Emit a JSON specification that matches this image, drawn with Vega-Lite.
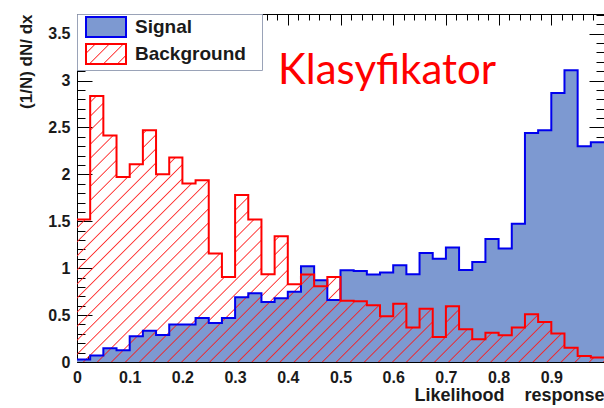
{
  "$schema": "https://vega.github.io/schema/vega-lite/v6.json",
  "width": 527,
  "height": 348,
  "autosize": {"type": "none"},
  "padding": {"left": 77, "top": 14, "right": 0, "bottom": 46},
  "background": "white",
  "title": {
    "text": "Klasyfikator",
    "orient": "top",
    "anchor": "start",
    "frame": "group",
    "offset": 0,
    "dx": 201,
    "dy": 112,
    "baseline": "alphabetic",
    "font": "Lato",
    "fontSize": 42,
    "fontWeight": "normal",
    "color": "#ff0000"
  },
  "config": {
    "view": {"stroke": null},
    "axis": {"grid": false}
  },
  "datasets": {
    "bins": [
      {"lo": 0.0, "hi": 0.025, "Signal": 0.026, "Background": 1.518},
      {"lo": 0.025, "hi": 0.05, "Signal": 0.07, "Background": 2.836},
      {"lo": 0.05, "hi": 0.075, "Signal": 0.146, "Background": 2.414},
      {"lo": 0.075, "hi": 0.1, "Signal": 0.125, "Background": 1.972},
      {"lo": 0.1, "hi": 0.125, "Signal": 0.274, "Background": 2.108},
      {"lo": 0.125, "hi": 0.15, "Signal": 0.333, "Background": 2.47},
      {"lo": 0.15, "hi": 0.175, "Signal": 0.288, "Background": 2.001},
      {"lo": 0.175, "hi": 0.2, "Signal": 0.4, "Background": 2.179},
      {"lo": 0.2, "hi": 0.225, "Signal": 0.4, "Background": 1.902},
      {"lo": 0.225, "hi": 0.25, "Signal": 0.47, "Background": 1.937},
      {"lo": 0.25, "hi": 0.275, "Signal": 0.416, "Background": 1.156},
      {"lo": 0.275, "hi": 0.3, "Signal": 0.47, "Background": 0.906},
      {"lo": 0.3, "hi": 0.325, "Signal": 0.69, "Background": 1.78},
      {"lo": 0.325, "hi": 0.35, "Signal": 0.732, "Background": 1.518},
      {"lo": 0.35, "hi": 0.375, "Signal": 0.64, "Background": 0.935},
      {"lo": 0.375, "hi": 0.4, "Signal": 0.68, "Background": 1.34},
      {"lo": 0.4, "hi": 0.425, "Signal": 0.75, "Background": 0.828},
      {"lo": 0.425, "hi": 0.45, "Signal": 1.02, "Background": 0.932},
      {"lo": 0.45, "hi": 0.475, "Signal": 0.871, "Background": 0.807},
      {"lo": 0.475, "hi": 0.5, "Signal": 0.66, "Background": 0.906},
      {"lo": 0.5, "hi": 0.525, "Signal": 0.978, "Background": 0.654},
      {"lo": 0.525, "hi": 0.55, "Signal": 0.97, "Background": 0.647},
      {"lo": 0.55, "hi": 0.575, "Signal": 0.932, "Background": 0.604},
      {"lo": 0.575, "hi": 0.6, "Signal": 0.953, "Background": 0.487},
      {"lo": 0.6, "hi": 0.625, "Signal": 1.031, "Background": 0.622},
      {"lo": 0.625, "hi": 0.65, "Signal": 0.935, "Background": 0.367},
      {"lo": 0.65, "hi": 0.675, "Signal": 1.162, "Background": 0.569},
      {"lo": 0.675, "hi": 0.7, "Signal": 1.102, "Background": 0.267},
      {"lo": 0.7, "hi": 0.725, "Signal": 1.22, "Background": 0.594},
      {"lo": 0.725, "hi": 0.75, "Signal": 0.98, "Background": 0.35},
      {"lo": 0.75, "hi": 0.775, "Signal": 1.066, "Background": 0.242},
      {"lo": 0.775, "hi": 0.8, "Signal": 1.31, "Background": 0.313},
      {"lo": 0.8, "hi": 0.825, "Signal": 1.209, "Background": 0.285},
      {"lo": 0.825, "hi": 0.85, "Signal": 1.475, "Background": 0.367},
      {"lo": 0.85, "hi": 0.875, "Signal": 2.441, "Background": 0.509},
      {"lo": 0.875, "hi": 0.9, "Signal": 2.47, "Background": 0.427},
      {"lo": 0.9, "hi": 0.925, "Signal": 2.868, "Background": 0.303},
      {"lo": 0.925, "hi": 0.95, "Signal": 3.11, "Background": 0.153},
      {"lo": 0.95, "hi": 0.975, "Signal": 2.3, "Background": 0.064},
      {"lo": 0.975, "hi": 1.0, "Signal": 2.342, "Background": 0.047}
    ]
  },
  "data": {"name": "bins"},
  "transform": [
    {"fold": ["Signal", "Background"], "as": ["series", "v"]},
    {"fold": ["lo", "hi"], "as": ["edge", "x"]}
  ],
  "resolve": {"axis": {"x": "independent", "y": "independent"}},
  "layer": [
    {
      "transform": [{"filter": "datum.series === 'Signal'"}],
      "mark": {"type": "area", "color": "#7d99d1", "opacity": 1},
      "encoding": {
        "x": {
          "field": "x", "type": "quantitative",
          "scale": {"domain": [0, 1], "nice": false, "zero": false},
          "axis": {
            "orient": "bottom", "ticks": false, "domain": true, "domainColor": "#000000", "domainWidth": 1,
            "values": [0, 0.1, 0.2, 0.3, 0.4, 0.5, 0.6, 0.7, 0.8, 0.9],
            "format": "~g", "labelFlush": false, "labelOverlap": false,
            "labelFont": "Liberation Sans", "labelFontWeight": "bold", "labelFontSize": 16, "labelColor": "#1a1a1a",
            "labelPadding": 7,
            "title": "Likelihood\u00a0\u00a0\u00a0\u00a0response", "titleAnchor": "end",
            "titleFont": "Liberation Sans", "titleFontWeight": "bold", "titleFontSize": 18, "titleColor": "#1a1a1a",
            "titlePadding": 1
          }
        },
        "y": {
          "field": "v", "type": "quantitative", "stack": null,
          "scale": {"domain": [0, 3.71], "nice": false, "zero": true},
          "axis": {
            "orient": "left", "ticks": false, "domain": true, "domainColor": "#000000", "domainWidth": 1,
            "values": [0, 0.5, 1, 1.5, 2, 2.5, 3, 3.5],
            "format": "~g", "labelFlush": false, "labelOverlap": false,
            "labelFont": "Liberation Sans", "labelFontWeight": "bold", "labelFontSize": 16, "labelColor": "#1a1a1a",
            "labelPadding": 7,
            "title": "(1/N) dN/ dx", "titleAnchor": "end",
            "titleFont": "Liberation Sans", "titleFontWeight": "bold", "titleFontSize": 17, "titleColor": "#1a1a1a",
            "titlePadding": 12
          }
        }
      }
    },
    {
      "transform": [{"filter": "datum.series === 'Background'"}],
      "mark": {
        "type": "area",
        "fill": {
          "gradient": "linear", "x1": 0, "y1": 0, "x2": 1.25, "y2": 0.631,
          "stops": [
            {"offset": 0, "color": "rgba(255,0,0,0)"},
            {"offset": 0.005, "color": "rgba(255,0,0,0)"}, {"offset": 0.0065, "color": "rgba(255,30,30,0.9)"}, {"offset": 0.008, "color": "rgba(255,0,0,0)"},
            {"offset": 0.022, "color": "rgba(255,0,0,0)"}, {"offset": 0.0235, "color": "rgba(255,30,30,0.9)"}, {"offset": 0.025, "color": "rgba(255,0,0,0)"},
            {"offset": 0.039, "color": "rgba(255,0,0,0)"}, {"offset": 0.0405, "color": "rgba(255,30,30,0.9)"}, {"offset": 0.042, "color": "rgba(255,0,0,0)"},
            {"offset": 0.056, "color": "rgba(255,0,0,0)"}, {"offset": 0.0575, "color": "rgba(255,30,30,0.9)"}, {"offset": 0.059, "color": "rgba(255,0,0,0)"},
            {"offset": 0.073, "color": "rgba(255,0,0,0)"}, {"offset": 0.0745, "color": "rgba(255,30,30,0.9)"}, {"offset": 0.076, "color": "rgba(255,0,0,0)"},
            {"offset": 0.09, "color": "rgba(255,0,0,0)"}, {"offset": 0.0915, "color": "rgba(255,30,30,0.9)"}, {"offset": 0.093, "color": "rgba(255,0,0,0)"},
            {"offset": 0.107, "color": "rgba(255,0,0,0)"}, {"offset": 0.1085, "color": "rgba(255,30,30,0.9)"}, {"offset": 0.11, "color": "rgba(255,0,0,0)"},
            {"offset": 0.124, "color": "rgba(255,0,0,0)"}, {"offset": 0.1255, "color": "rgba(255,30,30,0.9)"}, {"offset": 0.127, "color": "rgba(255,0,0,0)"},
            {"offset": 0.141, "color": "rgba(255,0,0,0)"}, {"offset": 0.1425, "color": "rgba(255,30,30,0.9)"}, {"offset": 0.144, "color": "rgba(255,0,0,0)"},
            {"offset": 0.158, "color": "rgba(255,0,0,0)"}, {"offset": 0.1595, "color": "rgba(255,30,30,0.9)"}, {"offset": 0.161, "color": "rgba(255,0,0,0)"},
            {"offset": 0.175, "color": "rgba(255,0,0,0)"}, {"offset": 0.1765, "color": "rgba(255,30,30,0.9)"}, {"offset": 0.178, "color": "rgba(255,0,0,0)"},
            {"offset": 0.192, "color": "rgba(255,0,0,0)"}, {"offset": 0.1935, "color": "rgba(255,30,30,0.9)"}, {"offset": 0.195, "color": "rgba(255,0,0,0)"},
            {"offset": 0.209, "color": "rgba(255,0,0,0)"}, {"offset": 0.2105, "color": "rgba(255,30,30,0.9)"}, {"offset": 0.212, "color": "rgba(255,0,0,0)"},
            {"offset": 0.226, "color": "rgba(255,0,0,0)"}, {"offset": 0.2275, "color": "rgba(255,30,30,0.9)"}, {"offset": 0.229, "color": "rgba(255,0,0,0)"},
            {"offset": 0.243, "color": "rgba(255,0,0,0)"}, {"offset": 0.2445, "color": "rgba(255,30,30,0.9)"}, {"offset": 0.246, "color": "rgba(255,0,0,0)"},
            {"offset": 0.26, "color": "rgba(255,0,0,0)"}, {"offset": 0.2615, "color": "rgba(255,30,30,0.9)"}, {"offset": 0.263, "color": "rgba(255,0,0,0)"},
            {"offset": 0.277, "color": "rgba(255,0,0,0)"}, {"offset": 0.2785, "color": "rgba(255,30,30,0.9)"}, {"offset": 0.28, "color": "rgba(255,0,0,0)"},
            {"offset": 0.294, "color": "rgba(255,0,0,0)"}, {"offset": 0.2955, "color": "rgba(255,30,30,0.9)"}, {"offset": 0.297, "color": "rgba(255,0,0,0)"},
            {"offset": 0.311, "color": "rgba(255,0,0,0)"}, {"offset": 0.3125, "color": "rgba(255,30,30,0.9)"}, {"offset": 0.314, "color": "rgba(255,0,0,0)"},
            {"offset": 0.328, "color": "rgba(255,0,0,0)"}, {"offset": 0.3295, "color": "rgba(255,30,30,0.9)"}, {"offset": 0.331, "color": "rgba(255,0,0,0)"},
            {"offset": 0.345, "color": "rgba(255,0,0,0)"}, {"offset": 0.3465, "color": "rgba(255,30,30,0.9)"}, {"offset": 0.348, "color": "rgba(255,0,0,0)"},
            {"offset": 0.362, "color": "rgba(255,0,0,0)"}, {"offset": 0.3635, "color": "rgba(255,30,30,0.9)"}, {"offset": 0.365, "color": "rgba(255,0,0,0)"},
            {"offset": 0.379, "color": "rgba(255,0,0,0)"}, {"offset": 0.3805, "color": "rgba(255,30,30,0.9)"}, {"offset": 0.382, "color": "rgba(255,0,0,0)"},
            {"offset": 0.396, "color": "rgba(255,0,0,0)"}, {"offset": 0.3975, "color": "rgba(255,30,30,0.9)"}, {"offset": 0.399, "color": "rgba(255,0,0,0)"},
            {"offset": 0.413, "color": "rgba(255,0,0,0)"}, {"offset": 0.4145, "color": "rgba(255,30,30,0.9)"}, {"offset": 0.416, "color": "rgba(255,0,0,0)"},
            {"offset": 0.43, "color": "rgba(255,0,0,0)"}, {"offset": 0.4315, "color": "rgba(255,30,30,0.9)"}, {"offset": 0.433, "color": "rgba(255,0,0,0)"},
            {"offset": 0.447, "color": "rgba(255,0,0,0)"}, {"offset": 0.4485, "color": "rgba(255,30,30,0.9)"}, {"offset": 0.45, "color": "rgba(255,0,0,0)"},
            {"offset": 0.464, "color": "rgba(255,0,0,0)"}, {"offset": 0.4655, "color": "rgba(255,30,30,0.9)"}, {"offset": 0.467, "color": "rgba(255,0,0,0)"},
            {"offset": 0.481, "color": "rgba(255,0,0,0)"}, {"offset": 0.4825, "color": "rgba(255,30,30,0.9)"}, {"offset": 0.484, "color": "rgba(255,0,0,0)"},
            {"offset": 0.498, "color": "rgba(255,0,0,0)"}, {"offset": 0.4995, "color": "rgba(255,30,30,0.9)"}, {"offset": 0.501, "color": "rgba(255,0,0,0)"},
            {"offset": 0.515, "color": "rgba(255,0,0,0)"}, {"offset": 0.5165, "color": "rgba(255,30,30,0.9)"}, {"offset": 0.518, "color": "rgba(255,0,0,0)"},
            {"offset": 0.532, "color": "rgba(255,0,0,0)"}, {"offset": 0.5335, "color": "rgba(255,30,30,0.9)"}, {"offset": 0.535, "color": "rgba(255,0,0,0)"},
            {"offset": 0.549, "color": "rgba(255,0,0,0)"}, {"offset": 0.5505, "color": "rgba(255,30,30,0.9)"}, {"offset": 0.552, "color": "rgba(255,0,0,0)"},
            {"offset": 0.566, "color": "rgba(255,0,0,0)"}, {"offset": 0.5675, "color": "rgba(255,30,30,0.9)"}, {"offset": 0.569, "color": "rgba(255,0,0,0)"},
            {"offset": 0.583, "color": "rgba(255,0,0,0)"}, {"offset": 0.5845, "color": "rgba(255,30,30,0.9)"}, {"offset": 0.586, "color": "rgba(255,0,0,0)"},
            {"offset": 0.6, "color": "rgba(255,0,0,0)"}, {"offset": 0.6015, "color": "rgba(255,30,30,0.9)"}, {"offset": 0.603, "color": "rgba(255,0,0,0)"},
            {"offset": 0.617, "color": "rgba(255,0,0,0)"}, {"offset": 0.6185, "color": "rgba(255,30,30,0.9)"}, {"offset": 0.62, "color": "rgba(255,0,0,0)"},
            {"offset": 0.634, "color": "rgba(255,0,0,0)"}, {"offset": 0.6355, "color": "rgba(255,30,30,0.9)"}, {"offset": 0.637, "color": "rgba(255,0,0,0)"},
            {"offset": 0.651, "color": "rgba(255,0,0,0)"}, {"offset": 0.6525, "color": "rgba(255,30,30,0.9)"}, {"offset": 0.654, "color": "rgba(255,0,0,0)"},
            {"offset": 0.668, "color": "rgba(255,0,0,0)"}, {"offset": 0.6695, "color": "rgba(255,30,30,0.9)"}, {"offset": 0.671, "color": "rgba(255,0,0,0)"},
            {"offset": 0.685, "color": "rgba(255,0,0,0)"}, {"offset": 0.6865, "color": "rgba(255,30,30,0.9)"}, {"offset": 0.688, "color": "rgba(255,0,0,0)"},
            {"offset": 0.702, "color": "rgba(255,0,0,0)"}, {"offset": 0.7035, "color": "rgba(255,30,30,0.9)"}, {"offset": 0.705, "color": "rgba(255,0,0,0)"},
            {"offset": 0.719, "color": "rgba(255,0,0,0)"}, {"offset": 0.7205, "color": "rgba(255,30,30,0.9)"}, {"offset": 0.722, "color": "rgba(255,0,0,0)"},
            {"offset": 0.736, "color": "rgba(255,0,0,0)"}, {"offset": 0.7375, "color": "rgba(255,30,30,0.9)"}, {"offset": 0.739, "color": "rgba(255,0,0,0)"},
            {"offset": 0.753, "color": "rgba(255,0,0,0)"}, {"offset": 0.7545, "color": "rgba(255,30,30,0.9)"}, {"offset": 0.756, "color": "rgba(255,0,0,0)"},
            {"offset": 0.77, "color": "rgba(255,0,0,0)"}, {"offset": 0.7715, "color": "rgba(255,30,30,0.9)"}, {"offset": 0.773, "color": "rgba(255,0,0,0)"},
            {"offset": 0.787, "color": "rgba(255,0,0,0)"}, {"offset": 0.7885, "color": "rgba(255,30,30,0.9)"}, {"offset": 0.79, "color": "rgba(255,0,0,0)"},
            {"offset": 0.804, "color": "rgba(255,0,0,0)"}, {"offset": 0.8055, "color": "rgba(255,30,30,0.9)"}, {"offset": 0.807, "color": "rgba(255,0,0,0)"},
            {"offset": 0.821, "color": "rgba(255,0,0,0)"}, {"offset": 0.8225, "color": "rgba(255,30,30,0.9)"}, {"offset": 0.824, "color": "rgba(255,0,0,0)"},
            {"offset": 0.838, "color": "rgba(255,0,0,0)"}, {"offset": 0.8395, "color": "rgba(255,30,30,0.9)"}, {"offset": 0.841, "color": "rgba(255,0,0,0)"},
            {"offset": 0.855, "color": "rgba(255,0,0,0)"}, {"offset": 0.8565, "color": "rgba(255,30,30,0.9)"}, {"offset": 0.858, "color": "rgba(255,0,0,0)"},
            {"offset": 0.872, "color": "rgba(255,0,0,0)"}, {"offset": 0.8735, "color": "rgba(255,30,30,0.9)"}, {"offset": 0.875, "color": "rgba(255,0,0,0)"},
            {"offset": 0.889, "color": "rgba(255,0,0,0)"}, {"offset": 0.8905, "color": "rgba(255,30,30,0.9)"}, {"offset": 0.892, "color": "rgba(255,0,0,0)"},
            {"offset": 0.906, "color": "rgba(255,0,0,0)"}, {"offset": 0.9075, "color": "rgba(255,30,30,0.9)"}, {"offset": 0.909, "color": "rgba(255,0,0,0)"},
            {"offset": 0.923, "color": "rgba(255,0,0,0)"}, {"offset": 0.9245, "color": "rgba(255,30,30,0.9)"}, {"offset": 0.926, "color": "rgba(255,0,0,0)"},
            {"offset": 0.94, "color": "rgba(255,0,0,0)"}, {"offset": 0.9415, "color": "rgba(255,30,30,0.9)"}, {"offset": 0.943, "color": "rgba(255,0,0,0)"},
            {"offset": 0.957, "color": "rgba(255,0,0,0)"}, {"offset": 0.9585, "color": "rgba(255,30,30,0.9)"}, {"offset": 0.96, "color": "rgba(255,0,0,0)"},
            {"offset": 1, "color": "rgba(255,0,0,0)"}
          ]
        }
      },
      "encoding": {
        "x": {
          "field": "x", "type": "quantitative",
          "axis": {
            "orient": "bottom", "labels": false, "domain": false, "title": null,
            "values": [0, 0.02, 0.04, 0.06, 0.08, 0.1, 0.12, 0.14, 0.16, 0.18, 0.2, 0.22, 0.24, 0.26, 0.28, 0.3, 0.32, 0.34, 0.36, 0.38, 0.4, 0.42, 0.44, 0.46, 0.48, 0.5, 0.52, 0.54, 0.56, 0.58, 0.6, 0.62, 0.64, 0.66, 0.68, 0.7, 0.72, 0.74, 0.76, 0.78, 0.8, 0.82, 0.84, 0.86, 0.88, 0.9, 0.92, 0.94, 0.96, 0.98, 1],
            "tickColor": "#000000", "tickWidth": 1,
            "tickSize": {"condition": {"test": "abs(datum.value*10 - round(datum.value*10)) < 0.001", "value": -11}, "value": -6}
          }
        },
        "y": {
          "field": "v", "type": "quantitative", "stack": null,
          "axis": {
            "orient": "left", "labels": false, "domain": false, "title": null,
            "values": [0, 0.1, 0.2, 0.3, 0.4, 0.5, 0.6, 0.7, 0.8, 0.9, 1, 1.1, 1.2, 1.3, 1.4, 1.5, 1.6, 1.7, 1.8, 1.9, 2, 2.1, 2.2, 2.3, 2.4, 2.5, 2.6, 2.7, 2.8, 2.9, 3, 3.1, 3.2, 3.3, 3.4, 3.5, 3.6, 3.7],
            "tickColor": "#000000", "tickWidth": 1,
            "tickSize": {"condition": {"test": "abs(datum.value*2 - round(datum.value*2)) < 0.001", "value": -15}, "value": -8}
          }
        }
      }
    },
    {
      "mark": {"type": "line", "strokeWidth": 2, "strokeJoin": "miter", "strokeCap": "butt"},
      "encoding": {
        "x": {
          "field": "x", "type": "quantitative",
          "axis": {
            "orient": "top", "labels": false, "domain": true, "domainColor": "#000000", "domainWidth": 1, "title": null,
            "values": [0, 0.02, 0.04, 0.06, 0.08, 0.1, 0.12, 0.14, 0.16, 0.18, 0.2, 0.22, 0.24, 0.26, 0.28, 0.3, 0.32, 0.34, 0.36, 0.38, 0.4, 0.42, 0.44, 0.46, 0.48, 0.5, 0.52, 0.54, 0.56, 0.58, 0.6, 0.62, 0.64, 0.66, 0.68, 0.7, 0.72, 0.74, 0.76, 0.78, 0.8, 0.82, 0.84, 0.86, 0.88, 0.9, 0.92, 0.94, 0.96, 0.98, 1],
            "tickColor": "#000000", "tickWidth": 1,
            "tickSize": {"condition": {"test": "abs(datum.value*10 - round(datum.value*10)) < 0.001", "value": -11}, "value": -6}
          }
        },
        "y": {
          "field": "v", "type": "quantitative", "stack": null,
          "axis": {
            "orient": "right", "labels": false, "domain": true, "domainColor": "#000000", "domainWidth": 1, "title": null,
            "values": [0, 0.1, 0.2, 0.3, 0.4, 0.5, 0.6, 0.7, 0.8, 0.9, 1, 1.1, 1.2, 1.3, 1.4, 1.5, 1.6, 1.7, 1.8, 1.9, 2, 2.1, 2.2, 2.3, 2.4, 2.5, 2.6, 2.7, 2.8, 2.9, 3, 3.1, 3.2, 3.3, 3.4, 3.5, 3.6, 3.7],
            "tickColor": "#000000", "tickWidth": 1,
            "tickSize": {"condition": {"test": "abs(datum.value*2 - round(datum.value*2)) < 0.001", "value": -15}, "value": -8}
          }
        },
        "color": {
          "field": "series", "type": "nominal",
          "scale": {"domain": ["Signal", "Background"], "range": ["#0000ee", "#ff0000"]},
          "legend": {
            "title": null, "orient": "top-left", "offset": 0, "padding": 2,
            "fillColor": "#ffffff", "strokeColor": "#9aa3b8",
            "symbolType": "M-1,-1H3V1H-1Z", "symbolSize": 400, "symbolStrokeWidth": 2, "symbolOffset": 6,
            "labelFont": "Liberation Sans", "labelFontWeight": "bold", "labelFontSize": 19, "labelColor": "#1a1a1a",
            "labelOffset": 28, "rowPadding": -1, "labelLimit": 300,
            "labelExpr": "datum.label + '\u2800'",
            "encode": {
              "symbols": {
                "update": {
                  "fillOpacity": {"value": 1},
                  "opacity": {"value": 1},
                  "fill": [
                    {
                      "test": "datum.value === 'Background'",
                      "value": {
                        "gradient": "linear", "x1": 0, "y1": 0, "x2": 1.25, "y2": 0.625,
                        "stops": [
                          {"offset": 0, "color": "rgba(255,0,0,0)"},
                          {"offset": 0.128, "color": "rgba(255,0,0,0)"}, {"offset": 0.148, "color": "rgba(255,30,30,0.9)"}, {"offset": 0.168, "color": "rgba(255,0,0,0)"},
                          {"offset": 0.352, "color": "rgba(255,0,0,0)"}, {"offset": 0.372, "color": "rgba(255,30,30,0.9)"}, {"offset": 0.392, "color": "rgba(255,0,0,0)"},
                          {"offset": 0.576, "color": "rgba(255,0,0,0)"}, {"offset": 0.596, "color": "rgba(255,30,30,0.9)"}, {"offset": 0.616, "color": "rgba(255,0,0,0)"},
                          {"offset": 0.8, "color": "rgba(255,0,0,0)"}, {"offset": 0.82, "color": "rgba(255,30,30,0.9)"}, {"offset": 0.84, "color": "rgba(255,0,0,0)"},
                          {"offset": 1, "color": "rgba(255,0,0,0)"}
                        ]
                      }
                    },
                    {"value": "#7d99d1"}
                  ]
                }
              }
            }
          }
        }
      }
    }
  ]
}
